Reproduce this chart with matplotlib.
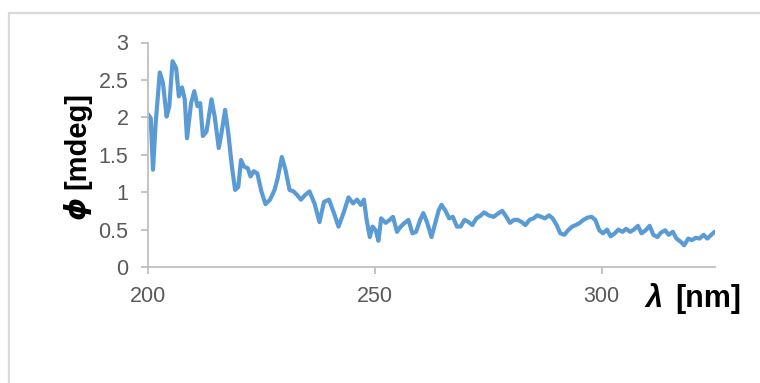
import matplotlib
matplotlib.use("Agg")
import matplotlib.pyplot as plt
from matplotlib.patches import Rectangle

plt.rcParams['font.family'] = ['Liberation Sans', 'DejaVu Sans']

# CD spectrum: wavelength (nm) vs ellipticity (mdeg)
wavelength = [200.0, 200.6, 201.1, 201.7, 202.6, 203.3, 204.1, 204.7, 205.4, 206.2,
              206.8, 207.5, 208.1, 208.6, 209.5, 210.2, 210.9, 211.5, 212.1, 212.9,
              214.0, 214.7, 215.6, 216.2, 217.0, 217.7, 218.5, 219.2, 219.9, 220.5,
              221.2, 222.0, 222.6, 223.3, 224.1, 225.0, 225.9, 226.9, 227.9, 228.6,
              229.5, 230.3, 231.2, 232.1, 232.9, 233.7, 234.6, 235.6, 236.7, 237.8,
              238.8, 239.9, 241.0, 242.0, 243.1, 244.2, 245.2, 246.1, 246.9, 247.6,
              248.2, 248.9, 249.5, 250.2, 250.8, 251.4, 252.4, 253.3, 254.0, 254.9,
              255.7, 256.6, 257.4, 258.3, 259.1, 260.0, 260.7, 261.5, 262.5, 263.4,
              264.1, 264.7, 265.5, 266.4, 267.2, 268.1, 268.9, 269.8, 270.7, 271.5,
              272.4, 273.2, 274.1, 275.1, 276.2, 277.3, 278.1, 279.0, 279.8, 280.7,
              281.5, 282.4, 283.2, 284.1, 285.0, 285.8, 286.7, 287.5, 288.4, 289.2,
              290.1, 290.9, 291.8, 292.6, 293.5, 294.3, 295.2, 296.0, 296.9, 297.8,
              298.6, 299.5, 300.3, 301.2, 302.0, 302.9, 303.7, 304.6, 305.4, 306.3,
              307.1, 308.0, 308.8, 309.7, 310.6, 311.4, 312.3, 313.1, 314.0, 314.8,
              315.7, 316.5, 317.4, 318.2, 319.1, 319.9, 320.8, 321.6, 322.5, 323.3,
              324.2, 324.9]
ellipticity = [2.04, 1.99, 1.30, 1.93, 2.60, 2.46, 2.01, 2.15, 2.75, 2.66,
               2.28, 2.40, 2.24, 1.72, 2.19, 2.35, 2.15, 2.19, 1.75, 1.81,
               2.24, 2.01, 1.59, 1.79, 2.10, 1.79, 1.34, 1.03, 1.07, 1.43,
               1.34, 1.32, 1.21, 1.28, 1.25, 1.01, 0.84, 0.90, 1.03, 1.19,
               1.47, 1.30, 1.03, 1.01, 0.96, 0.90, 0.96, 1.01, 0.85, 0.60,
               0.87, 0.90, 0.72, 0.54, 0.72, 0.93, 0.85, 0.90, 0.83, 0.90,
               0.63, 0.40, 0.54, 0.49, 0.35, 0.65, 0.59, 0.63, 0.67, 0.47,
               0.54, 0.59, 0.63, 0.45, 0.47, 0.63, 0.72, 0.60, 0.40, 0.60,
               0.76, 0.83, 0.76, 0.65, 0.67, 0.54, 0.54, 0.63, 0.60, 0.56,
               0.65, 0.68, 0.73, 0.69, 0.67, 0.72, 0.75, 0.67, 0.59, 0.63,
               0.63, 0.60, 0.56, 0.63, 0.65, 0.69, 0.67, 0.65, 0.69, 0.65,
               0.56, 0.45, 0.43, 0.49, 0.54, 0.56, 0.59, 0.63, 0.66, 0.67,
               0.63, 0.49, 0.45, 0.50, 0.41, 0.45, 0.50, 0.47, 0.51, 0.47,
               0.50, 0.55, 0.45, 0.49, 0.55, 0.43, 0.40, 0.46, 0.49, 0.43,
               0.47, 0.38, 0.34, 0.29, 0.38, 0.36, 0.39, 0.38, 0.43, 0.38,
               0.43, 0.47]

x_ticks = [200, 250, 300]
y_ticks = [0, 0.5, 1, 1.5, 2, 2.5, 3]
y_tick_labels = ['0', '0.5', '1', '1.5', '2', '2.5', '3']

W, H = 760, 383
fig = plt.figure(figsize=(W / 100, H / 100), dpi=100)

# light frame around the chart area
fig.patches.append(Rectangle((9 / W, -0.05), 1.0, 1 - 13 / H + 0.05,
                             transform=fig.transFigure, fill=False,
                             edgecolor='#d9d9d9', linewidth=1.6))

ax = fig.add_axes([148 / W, 1 - 267 / H, (715 - 148) / W, (267 - 42.5) / H])
ax.plot(wavelength, ellipticity, color='#5b9bd5', linewidth=3.0,
        solid_joinstyle='round', solid_capstyle='round')

ax.set_xlim(200, 325)
ax.set_ylim(0, 3)
ax.set_xticks(x_ticks)
ax.set_yticks(y_ticks)
ax.set_yticklabels(y_tick_labels)

for side in ('top', 'right'):
    ax.spines[side].set_visible(False)
for side in ('left', 'bottom'):
    ax.spines[side].set_color('#bfbfbf')
    ax.spines[side].set_linewidth(1.3)
ax.tick_params(axis='both', colors='#bfbfbf', length=5, width=1.3,
               labelcolor='#595959', labelsize=15.5)
ax.tick_params(axis='x', pad=9)
ax.tick_params(axis='y', pad=9)

# axis titles with italic Greek symbols
fig.text(77 / W, 1 - 140 / H, '[mdeg]', rotation=90, fontsize=21,
         fontweight='bold', ha='center', va='center', color='black')
fig.text(77 / W, 1 - 207 / H, '\u03d5', rotation=90, fontsize=21,
         fontweight='bold', style='italic', ha='center', va='center',
         color='black', family=['DejaVu Sans'])
fig.text(741 / W, 1 - 299 / H, '[nm]', fontsize=22, fontweight='bold',
         ha='right', va='center', color='black')
fig.text(654 / W, 1 - 299 / H, '\u03bb', fontsize=22, fontweight='bold',
         style='italic', ha='center', va='center', color='black')

fig.savefig('out.png', dpi=100)
